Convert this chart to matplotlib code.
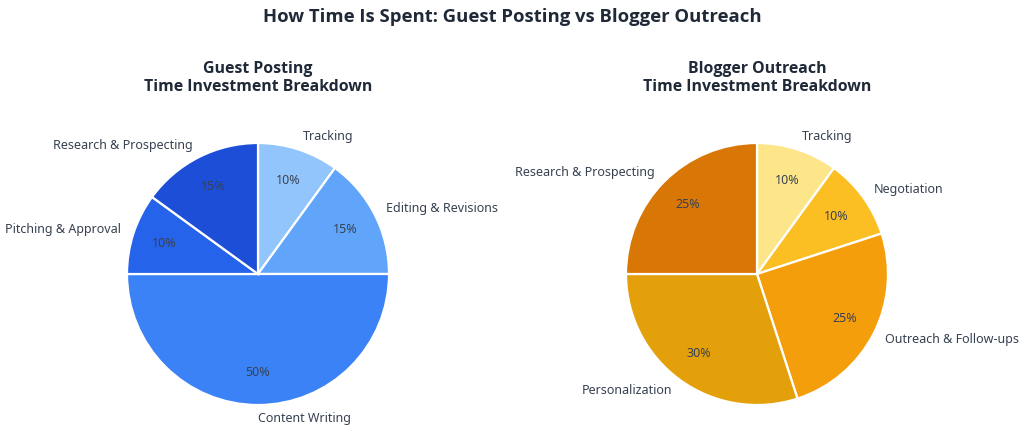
import matplotlib.pyplot as plt
from matplotlib import font_manager

plt.rcParams['font.family'] = ['Noto Sans', 'DejaVu Sans']

# guest posting breakdown (clockwise from 12 o'clock)
gp_labels = ["Tracking", "Editing & Revisions", "Content Writing", "Pitching & Approval", "Research & Prospecting"]
gp_values = [10, 15, 50, 10, 15]
gp_colors = ["#93c5fd", "#60a5fa", "#3b82f6", "#2563eb", "#1d4ed8"]

# blogger outreach breakdown
bo_labels = ["Tracking", "Negotiation", "Outreach & Follow-ups", "Personalization", "Research & Prospecting"]
bo_values = [10, 10, 25, 30, 25]
bo_colors = ["#fde68a", "#fbbf24", "#f59e0b", "#e3a00b", "#d97706"]

title_col = "#1f2937"
text_col = "#374151"

# pick a family that really has a bold face
bold_family = ['DejaVu Sans']
for fam in ['Noto Sans', 'Open Sans', 'Lato']:
    try:
        f = font_manager.findfont(font_manager.FontProperties(family=fam, weight='bold'), fallback_to_default=False)
        if 'bold' in f.lower():
            bold_family = [fam, 'DejaVu Sans']
            break
    except Exception:
        pass

W, H = 1024, 448
fig = plt.figure(figsize=(W/100, H/100), dpi=100)
fig.patch.set_facecolor("white")

def add_pie(cx, cy, r, labels, values, colors, title):
    ax = fig.add_axes([(cx - r)/W, (H - cy - r)/H, 2*r/W, 2*r/H])
    wedges, texts, autotexts = ax.pie(values, labels=labels, colors=colors, startangle=90,
                                      counterclock=False, autopct='%1.0f%%', pctdistance=0.75,
                                      labeldistance=1.1,
                                      wedgeprops=dict(edgecolor="white", linewidth=1.6),
                                      textprops=dict(fontsize=9, color=text_col))
    for t in texts:
        if abs(t.get_position()[0]) < 1e-6:
            t.set_ha('left')
    for t in autotexts:
        t.set_color("#374151")
        t.set_fontsize(9)
    ax.set_xlim(-1, 1)
    ax.set_ylim(-1, 1)
    ax.set_aspect('equal')
    ax.axis('off')
    fig.text(cx/W, 1 - 78/H, title, ha='center', va='center', fontsize=11.4, family=bold_family,
             fontweight='bold', color=title_col, linespacing=1.2)
    return ax

add_pie(258, 274, 131, gp_labels, gp_values, gp_colors, "Guest Posting\nTime Investment Breakdown")
add_pie(757, 274, 131, bo_labels, bo_values, bo_colors, "Blogger Outreach\nTime Investment Breakdown")

fig.text(512/W, 1 - 17/H, "How Time Is Spent: Guest Posting vs Blogger Outreach", ha='center', va='center',
         fontsize=13.3, fontweight='bold', family=bold_family, color=title_col)

fig.savefig("out.png", dpi=100)
